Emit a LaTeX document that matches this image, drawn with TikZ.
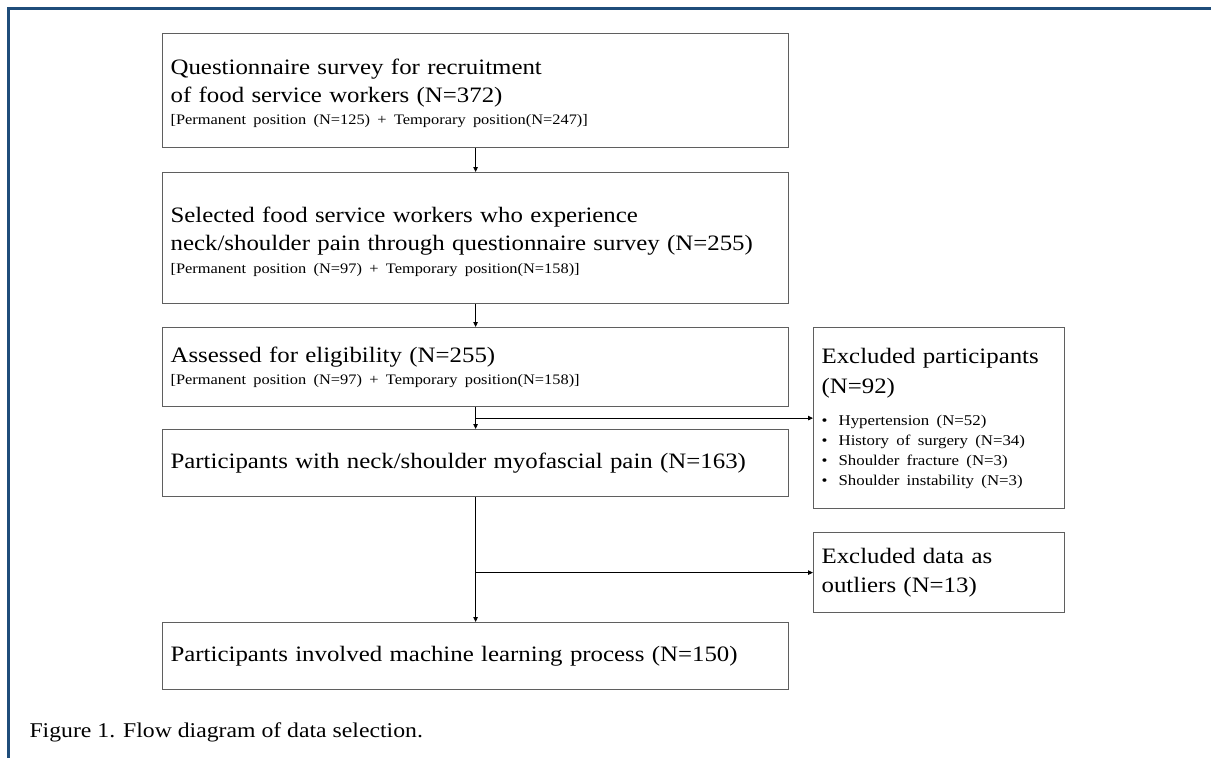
\documentclass[tikz,border=0pt]{standalone}
\usepackage{fontspec}
\setmainfont{Liberation Serif}[FakeStretch=1.13]
\usetikzlibrary{arrows.meta}
\definecolor{frameblue}{RGB}{31,77,122}
\definecolor{boxgray}{RGB}{95,95,95}
\begin{document}
\begin{tikzpicture}[x=1pt, y=-1pt,
  stagebox/.style={draw=boxgray, line width=1.2pt, anchor=north west, inner xsep=8pt, inner ysep=0pt,
    text width=610pt, minimum height=#1, align=left, font=\fontsize{22}{28}\selectfont},
  sidebox/.style={draw=boxgray, line width=1.2pt, anchor=north west, inner xsep=8pt, inner ysep=0pt,
    text width=235pt, minimum height=#1, align=left, font=\fontsize{22}{29}\selectfont},
  flow/.style={draw=black, line width=0.8pt, -{Triangle[length=5pt,width=4.5pt]}}]
\newcommand\posline{\fontsize{14.5}{28}\selectfont}
\newcommand\exitem[1]{\makebox[17pt][l]{\textbullet}#1}
\useasboundingbox (0, 0) rectangle (1211, 758);
\fill [white] (0, 0) rectangle (1211, 758);

\draw [frameblue, line width=3pt] (8, 758) -- (8, 8) -- (1211, 8);

\node (survey) at (162, 33) [stagebox=114pt] {\rule{0pt}{20pt}Questionnaire survey for recruitment\\of food service workers (N=372)\\[-6pt]
  \posline [Permanent position (N=125) + Temporary position(N=247)]};
\node (painful) at (162, 172) [stagebox=131pt] {\rule{0pt}{23pt}Selected food service workers who experience\\neck/shoulder pain through questionnaire survey (N=255)\\[-5pt]
  \posline [Permanent position (N=97) + Temporary position(N=158)]};
\node (eligible) at (162, 327) [stagebox=79pt] {Assessed for eligibility (N=255)\\[-6pt]
  \posline [Permanent position (N=97) + Temporary position(N=158)]};
\node (myofascial) at (162, 429) [stagebox=67pt] {Participants with neck/shoulder myofascial pain (N=163)};
\node (learning) at (162, 622) [stagebox=67pt] {Participants involved machine learning process (N=150)};

\node (excluded) at (813, 327) [sidebox=181pt, font=\fontsize{22}{20}\selectfont] {Excluded participants\\[10pt](N=92)\\[12pt]
  \fontsize{14.9}{20}\selectfont\exitem{Hypertension (N=52)}\\\exitem{History of surgery (N=34)}\\
  \exitem{Shoulder fracture (N=3)}\\\exitem{Shoulder instability (N=3)}};
\node (outliers) at (813, 532) [sidebox=80pt] {Excluded data as\\outliers (N=13)};

\draw [flow] (survey) -- (painful);
\draw [flow] (painful) -- (eligible);
\draw [flow] (eligible) -- (myofascial);
\draw [flow] (eligible.south |- excluded.west) -- (excluded.west);
\draw [flow] (myofascial) -- (learning);
\draw [flow] (myofascial.south |- outliers.west) -- (outliers.west);

\node (caption) at (26, 737) [anchor=base west, font=\fontsize{21}{24}\selectfont] {Figure 1. Flow diagram of data selection.};
\end{tikzpicture}
\end{document}
